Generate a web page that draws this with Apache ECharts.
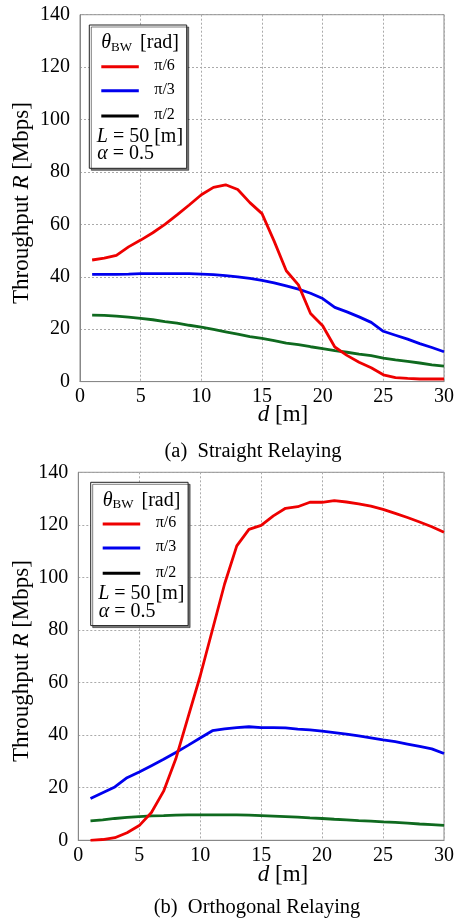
<!DOCTYPE html>
<html>
<head>
<meta charset="utf-8">
<script src="https://cdn.jsdelivr.net/npm/echarts@6/dist/echarts.min.js"></script>
<style>
  html, body { margin: 0; padding: 0; background: #fff; }
  #chart { width: 457px; height: 923px; }
</style>
</head>
<body>
<div id="chart"></div>
<script>
// Distance d [m] between nodes
var distances = [1, 2, 3, 4, 5, 6, 7, 8, 9, 10, 11, 12, 13, 14, 15,
                 16, 17, 18, 19, 20, 21, 22, 23, 24, 25, 26, 27, 28, 29, 30];

// Throughput R [Mbps], straight relaying
var straightPi6 = [46.4, 47.1, 48.2, 51.4, 54.0, 56.8, 60.0, 63.6, 67.4, 71.3,
                   74.1, 75.1, 73.3, 68.3, 64.1, 53.6, 42.3, 36.9, 26.0, 21.3,
                   13.2, 10.0, 7.4, 5.3, 2.6, 1.5, 1.2, 1.0, 1.0, 1.0];
var straightPi3 = [40.9, 40.9, 40.9, 41.0, 41.2, 41.2, 41.2, 41.2, 41.2, 41.0,
                   40.8, 40.4, 40.0, 39.4, 38.6, 37.7, 36.5, 35.3, 33.7, 31.7,
                   28.3, 26.6, 24.7, 22.6, 19.2, 17.7, 16.2, 14.5, 13.0, 11.4];
var straightPi2 = [25.4, 25.3, 25.0, 24.6, 24.1, 23.6, 22.9, 22.3, 21.5, 20.8,
                   19.9, 19.0, 18.1, 17.2, 16.5, 15.6, 14.7, 14.1, 13.3, 12.6,
                   11.8, 11.2, 10.5, 9.9, 9.0, 8.3, 7.7, 7.1, 6.4, 5.9];

// Throughput R [Mbps], orthogonal relaying
var orthoPi6 = [0.0, 0.3, 1.0, 2.9, 5.6, 10.6, 18.7, 31.0, 46.8, 62.5,
                80.0, 97.5, 112.0, 118.3, 119.8, 123.4, 126.3, 126.9, 128.6, 128.6,
                129.2, 128.7, 128.0, 127.1, 125.9, 124.4, 122.8, 121.1, 119.3, 117.2];
var orthoPi3 = [15.9, 18.1, 20.3, 23.8, 26.0, 28.4, 30.8, 33.4, 36.1, 38.9,
                41.7, 42.4, 42.9, 43.2, 42.9, 42.9, 42.8, 42.3, 42.0, 41.5,
                41.0, 40.4, 39.7, 39.0, 38.2, 37.5, 36.6, 35.7, 34.8, 33.0];
var orthoPi2 = [7.4, 7.8, 8.3, 8.7, 9.0, 9.3, 9.4, 9.6, 9.7, 9.7,
                9.7, 9.7, 9.7, 9.6, 9.4, 9.2, 9.0, 8.8, 8.5, 8.3,
                8.0, 7.8, 7.5, 7.3, 7.0, 6.8, 6.5, 6.2, 6.0, 5.7];

// Axis ticks
var xTicks = [0, 5, 10, 15, 20, 25, 30];
var yTicks = [0, 20, 40, 60, 80, 100, 120, 140];

var beamLabels = ['π/6', 'π/3', 'π/2'];
var captions = ['(a)\u2002Straight Relaying', '(b)\u2002Orthogonal Relaying'];

var SERIF = '"Liberation Serif", "DejaVu Serif", serif';
var RED = '#ee0000', BLUE = '#0000ee', GREEN = '#0f6a1f';

function pairs(ys) {
  return distances.map(function (d, i) { return [d, ys[i]]; });
}

function xAxis(gridIndex) {
  return {
    type: 'value', gridIndex: gridIndex,
    min: xTicks[0], max: xTicks[xTicks.length - 1], interval: xTicks[1] - xTicks[0],
    axisLine: { show: true, lineStyle: { color: '#888', width: 1 } },
    axisTick: { show: false },
    axisLabel: { color: '#000', fontFamily: SERIF, fontSize: 20, margin: 5 },
    splitLine: { show: true, lineStyle: { color: '#aaa', type: [2, 2], width: 1 } }
  };
}
function yAxis(gridIndex) {
  return {
    type: 'value', gridIndex: gridIndex,
    min: yTicks[0], max: yTicks[yTicks.length - 1], interval: yTicks[1] - yTicks[0],
    axisLine: { show: true, lineStyle: { color: '#888', width: 1 } },
    axisTick: { show: false },
    axisLabel: { color: '#000', fontFamily: SERIF, fontSize: 20, margin: 10 },
    splitLine: { show: true, lineStyle: { color: '#aaa', type: [2, 2], width: 1 } }
  };
}
function line(name, ys, color, idx) {
  return {
    name: name, type: 'line', xAxisIndex: idx, yAxisIndex: idx,
    data: pairs(ys), showSymbol: false, symbol: 'none',
    lineStyle: { color: color, width: 2.8 }, itemStyle: { color: color },
    z: 3
  };
}

// Legend box with beam-width entries and scenario parameters
function legendBox(left, top) {
  var colors = [RED, BLUE, '#000'];
  var rows = [41.7, 65.7, 91];
  var kids = [{
    type: 'rect', shape: { x: left, y: top, width: 97.4, height: 143.3 },
    style: { fill: '#fff', stroke: '#222', lineWidth: 1,
             shadowColor: 'rgba(0,0,0,0.5)', shadowOffsetX: 2, shadowOffsetY: 2, shadowBlur: 0 },
    z: 10
  }, {
    type: 'text', x: left + 12, y: top + 18, z: 11,
    style: {
      text: '{t|θ}{s|BW}{g|  }{r|[rad]}', verticalAlign: 'middle',
      rich: {
        t: { fontFamily: SERIF, fontStyle: 'italic', fontSize: 20, fill: '#000' },
        s: { fontFamily: SERIF, fontSize: 13, fill: '#000', padding: [9, 0, 0, 0] },
        g: { fontFamily: SERIF, fontSize: 16, fill: '#000' },
        r: { fontFamily: SERIF, fontSize: 20, fill: '#000' }
      }
    }
  }];
  rows.forEach(function (r, i) {
    kids.push({
      type: 'line', z: 11,
      shape: { x1: left + 12, y1: top + r, x2: left + 49.5, y2: top + r },
      style: { stroke: colors[i], lineWidth: 3 }
    });
    kids.push({
      type: 'text', x: left + 65, y: top + r - 1, z: 11,
      style: { text: beamLabels[i], fontFamily: SERIF, fontSize: 16, fill: '#000',
               verticalAlign: 'middle' }
    });
  });
  kids.push({
    type: 'text', x: left + 7.5, y: top + 111.5, z: 11,
    style: {
      text: '{i|L} = 50 [m]', verticalAlign: 'middle',
      fontFamily: SERIF, fontSize: 20, fill: '#000',
      rich: { i: { fontFamily: SERIF, fontStyle: 'italic', fontSize: 20, fill: '#000' } }
    }
  });
  kids.push({
    type: 'text', x: left + 8, y: top + 129, z: 11,
    style: {
      text: '{i|α} = 0.5', verticalAlign: 'middle',
      fontFamily: SERIF, fontSize: 20, fill: '#000',
      rich: { i: { fontFamily: SERIF, fontStyle: 'italic', fontSize: 20, fill: '#000' } }
    }
  });
  return kids;
}

function yTitle(cy) {
  return {
    type: 'text', x: 22, y: cy, rotation: Math.PI / 2,
    style: {
      text: 'Throughput {i|R} [Mbps]', align: 'center', verticalAlign: 'middle',
      fontFamily: SERIF, fontSize: 23, fill: '#000',
      rich: { i: { fontFamily: SERIF, fontStyle: 'italic', fontSize: 23, fill: '#000' } }
    }
  };
}
function xTitle(cy) {
  return {
    type: 'text', x: 283, y: cy,
    style: {
      text: '{i|d} [m]', align: 'center', verticalAlign: 'middle',
      fontFamily: SERIF, fontSize: 23, fill: '#000',
      rich: { i: { fontFamily: SERIF, fontStyle: 'italic', fontSize: 23, fill: '#000' } }
    }
  };
}
function caption(text, cx, cy) {
  return {
    type: 'text', x: cx, y: cy,
    style: { text: text, align: 'center', verticalAlign: 'middle',
             fontFamily: SERIF, fontSize: 20.5, fill: '#000' }
  };
}

var chart = echarts.init(document.getElementById('chart'), null, { renderer: 'canvas' });
chart.setOption({
  animation: false,
  backgroundColor: '#fff',
  grid: [
    { left: 80, right: 10.3, top: 14.7, bottom: 541.4, show: true, borderColor: '#888', borderWidth: 1 },
    { left: 78.3, right: 9.3, top: 472.3, bottom: 82.7, show: true, borderColor: '#888', borderWidth: 1 }
  ],
  xAxis: [xAxis(0), xAxis(1)],
  yAxis: [yAxis(0), yAxis(1)],
  series: [
    line(beamLabels[2], straightPi2, GREEN, 0),
    line(beamLabels[1], straightPi3, BLUE, 0),
    line(beamLabels[0], straightPi6, RED, 0),
    line(beamLabels[2], orthoPi2, GREEN, 1),
    line(beamLabels[1], orthoPi3, BLUE, 1),
    line(beamLabels[0], orthoPi6, RED, 1)
  ],
  graphic: [].concat(
    legendBox(89.3, 25),
    legendBox(90.7, 482.3),
    [yTitle(203), yTitle(661), xTitle(415), xTitle(875),
     caption(captions[0], 253, 452), caption(captions[1], 257, 908)]
  )
});
</script>
</body>
</html>
